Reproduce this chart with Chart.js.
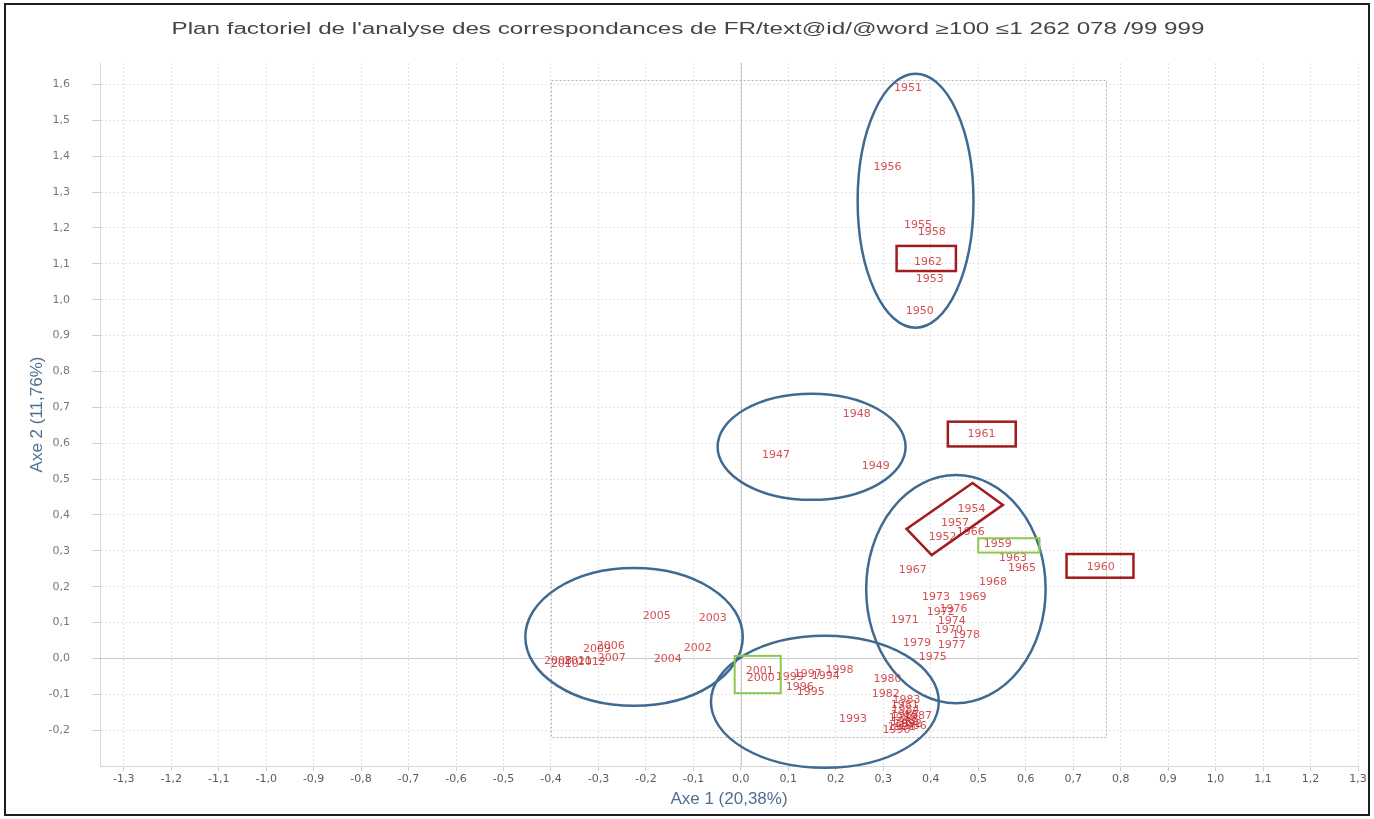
<!DOCTYPE html>
<html>
<head>
<meta charset="utf-8">
<title>Plan factoriel AFC</title>
<script src="https://cdn.jsdelivr.net/npm/chart.js@4.4.1/dist/chart.umd.min.js"></script>
<style>
    html, body { margin: 0; padding: 0; background: #fff; }
    #wrap { width: 1374px; height: 819px; position: relative; }
</style>
</head>
<body>
<div id="wrap"><canvas id="afc"></canvas></div>
<script>
// Coordonnées des années sur les deux premiers axes factoriels
const years = [
    1947, 1948, 1949, 1950, 1951, 1952, 1953, 1954, 1955, 1956,
    1957, 1958, 1959, 1960, 1961, 1962, 1963, 1965, 1966, 1967,
    1968, 1969, 1970, 1971, 1972, 1973, 1974, 1975, 1976, 1977,
    1978, 1979, 1980, 1981, 1982, 1983, 1984, 1985, 1986, 1987,
    1988, 1989, 1990, 1991, 1992, 1993, 1994, 1995, 1996, 1997,
    1998, 1999, 2000, 2001, 2002, 2003, 2004, 2005, 2006, 2007,
    2008, 2009, 2010, 2011, 2012
];
const axe1 = [
    0.074, 0.244, 0.284, 0.377, 0.352, 0.425, 0.398, 0.486, 0.373, 0.309,
    0.451, 0.402, 0.541, 0.758, 0.507, 0.394, 0.573, 0.592, 0.484, 0.362,
    0.531, 0.488, 0.438, 0.345, 0.421, 0.411, 0.444, 0.404, 0.448, 0.444,
    0.474, 0.371, 0.309, 0.345, 0.305, 0.349, 0.347, 0.345, 0.362, 0.373,
    0.341, 0.345, 0.328, 0.339, 0.352, 0.236, 0.179, 0.147, 0.124, 0.141,
    0.208, 0.103, 0.042, 0.040, -0.091, -0.059, -0.154, -0.177, -0.274, -0.272,
    -0.385, -0.303, -0.371, -0.343, -0.314
];
const axe2 = [
    0.567, 0.681, 0.536, 0.969, 1.591, 0.338, 1.058, 0.416, 1.208, 1.370,
    0.377, 1.189, 0.319, 0.255, 0.626, 1.105, 0.280, 0.252, 0.352, 0.247,
    0.213, 0.171, 0.079, 0.107, 0.129, 0.171, 0.104, 0.004, 0.138, 0.037,
    0.065, 0.043, -0.057, -0.130, -0.099, -0.116, -0.144, -0.158, -0.188, -0.161,
    -0.166, -0.177, -0.200, -0.191, -0.183, -0.169, -0.049, -0.094, -0.080, -0.043,
    -0.032, -0.052, -0.055, -0.035, 0.029, 0.113, -0.002, 0.118, 0.035, 0.001,
    -0.007, 0.026, -0.015, -0.007, -0.010
];

// Bornes des axes (pas de 0,1)
const xRange = [-1.35, 1.3];
const yRange = [-0.3, 1.66];

// Regroupements tracés à la main : [centre x, centre y, rayon x, rayon y]
const ellipses = [
    [0.368, 1.276, 0.122, 0.354],
    [0.149, 0.590, 0.198, 0.148],
    [0.453, 0.193, 0.189, 0.318],
    [-0.225, 0.060, 0.229, 0.192],
    [0.177, -0.121, 0.240, 0.184]
];
// Encadrés : [x1, y1, x2, y2]
const redBoxes = [
    [0.328, 1.150, 0.453, 1.080],
    [0.436, 0.660, 0.579, 0.591],
    [0.686, 0.291, 0.827, 0.225]
];
const tiltedBox = [[0.488, 0.489], [0.552, 0.428], [0.402, 0.288], [0.349, 0.361]];
const greenBoxes = [
    [0.500, 0.335, 0.629, 0.295],
    [-0.013, 0.007, 0.084, -0.097]
];

const titre = "Plan factoriel de l'analyse des correspondances de FR/text@id/@word \u2265100 \u22641 262 078 /99 999";

const points = years.map((y, i) => ({ x: axe1[i], y: axe2[i], label: String(y) }));

const fmt = (v) => (Math.round(v * 10) / 10).toFixed(1).replace(".", ",");

// fond : axes zéro + cadre pointillé autour du nuage
const fondPlugin = {
    id: "fond",
    beforeDatasetsDraw(chart) {
        const { ctx, chartArea: a, scales: { x, y } } = chart;
        ctx.save();
        ctx.strokeStyle = "#c9c9c9";
        ctx.lineWidth = 1;
        const x0 = Math.round(x.getPixelForValue(0)) + 0.5;
        const y0 = Math.round(y.getPixelForValue(0)) + 0.5;
        ctx.beginPath();
        ctx.moveTo(x0, a.top); ctx.lineTo(x0, a.bottom);
        ctx.moveTo(a.left, y0); ctx.lineTo(a.right, y0);
        ctx.stroke();

        const l = x.getPixelForValue(Math.min(...axe1)) - 7;
        const r = x.getPixelForValue(Math.max(...axe1)) + 5;
        const t = y.getPixelForValue(Math.max(...axe2)) - 8;
        const b = y.getPixelForValue(Math.min(...axe2)) + 7;
        ctx.strokeStyle = "#b5b5b5";
        ctx.setLineDash([2, 2]);
        ctx.strokeRect(Math.round(l) + 0.5, Math.round(t) + 0.5, Math.round(r - l), Math.round(b - t));
        ctx.restore();
    }
};

// étiquettes des années puis annotations par-dessus
const etiquettesPlugin = {
    id: "etiquettes",
    afterDatasetsDraw(chart) {
        const { ctx, scales: { x, y } } = chart;
        const px = (v) => x.getPixelForValue(v);
        const py = (v) => y.getPixelForValue(v);
        ctx.save();
        ctx.font = '11px "DejaVu Sans"';
        ctx.textAlign = "center";
        ctx.textBaseline = "middle";
        ctx.fillStyle = "rgba(200, 40, 45, 0.82)";
        points.forEach((p) => ctx.fillText(p.label, px(p.x), py(p.y)));

        ctx.lineWidth = 2.5;
        ctx.strokeStyle = "#3f6a92";
        ellipses.forEach(([cx, cy, rx, ry]) => {
            ctx.beginPath();
            ctx.ellipse(px(cx), py(cy), Math.abs(px(cx + rx) - px(cx)), Math.abs(py(cy + ry) - py(cy)), 0, 0, Math.PI * 2);
            ctx.stroke();
        });

        ctx.strokeStyle = "#a11c1f";
        redBoxes.forEach(([x1, y1, x2, y2]) => {
            ctx.strokeRect(px(x1), py(y1), px(x2) - px(x1), py(y2) - py(y1));
        });
        ctx.beginPath();
        tiltedBox.forEach(([vx, vy], i) => (i ? ctx.lineTo(px(vx), py(vy)) : ctx.moveTo(px(vx), py(vy))));
        ctx.closePath();
        ctx.stroke();

        ctx.lineWidth = 2;
        ctx.strokeStyle = "#8cc84b";
        greenBoxes.forEach(([x1, y1, x2, y2]) => {
            ctx.strokeRect(px(x1), py(y1), px(x2) - px(x1), py(y2) - py(y1));
        });
        ctx.restore();
    },
    afterDraw(chart) {
        const { ctx, width, height } = chart;
        ctx.save();
        // titre étiré sur la largeur du graphique
        ctx.font = '16px "Liberation Sans Narrow", "Liberation Sans", sans-serif';
        ctx.fillStyle = "#454545";
        ctx.textAlign = "center";
        ctx.textBaseline = "middle";
        const w = ctx.measureText(titre).width;
        ctx.translate(688, 30);
        ctx.scale(1033 / w, 1);
        ctx.fillText(titre, 0, 0);
        ctx.restore();

        ctx.save();
        ctx.strokeStyle = "#1e1e1e";
        ctx.lineWidth = 2;
        ctx.strokeRect(5, 4, width - 10, height - 8);
        ctx.restore();
    }
};

const ctx = document.getElementById("afc").getContext("2d");

new Chart(ctx, {
    type: "scatter",
    data: {
        datasets: [
            {
                label: "années",
                data: points,
                pointRadius: 0,
                pointHoverRadius: 0,
            },
        ],
    },
    options: {
        responsive: true,
        maintainAspectRatio: false,
        animation: false,
        layout: { padding: { top: 63, right: 16, left: 0, bottom: 0 } },
        plugins: {
            legend: { display: false },
            tooltip: { enabled: false },
            title: { display: false },
        },
        scales: {
            x: {
                type: "linear",
                min: xRange[0],
                max: xRange[1],
                ticks: {
                    stepSize: 0.1,
                    includeBounds: false,
                    autoSkip: false,
                    maxRotation: 0,
                    padding: 2,
                    color: "#5a5a5a",
                    font: { family: "DejaVu Sans", size: 11 },
                    callback: (v) => fmt(v),
                },
                grid: { color: "#e2e2e2", tickLength: 5, tickColor: "#cfcfcf" },
                border: { display: true, color: "#d5d5d5", dash: [2, 2] },
                title: {
                    display: true,
                    text: "Axe 1 (20,38%)",
                    color: "#4f6f8f",
                    font: { family: '"Liberation Sans Narrow", "Liberation Sans"', size: 17 },
                    padding: { top: 4, bottom: 9 },
                },
                afterFit(scale) {
                    scale.paddingLeft = 0;
                    scale.paddingRight = 0;
                    scale.height = 53;
                },
            },
            y: {
                type: "linear",
                min: yRange[0],
                max: yRange[1],
                ticks: {
                    stepSize: 0.1,
                    includeBounds: false,
                    padding: 22,
                    color: "#777",
                    font: { family: "DejaVu Sans", size: 11 },
                    callback: (v) => (v < yRange[0] + 0.05 ? "" : fmt(v)),
                },
                grid: { color: "#e2e2e2", tickLength: 8, tickColor: "#cfcfcf" },
                border: { display: true, color: "#d5d5d5", dash: [2, 2] },
                title: {
                    display: true,
                    text: "Axe 2 (11,76%)",
                    color: "#4f6f8f",
                    font: { family: '"Liberation Sans Narrow", "Liberation Sans"', size: 17 },
                    padding: { top: 27, bottom: 0 },
                },
                afterFit(scale) {
                    scale.paddingTop = 0;
                    scale.paddingBottom = 0;
                    scale.width = 100;
                },
            },
        },
    },
    plugins: [fondPlugin, etiquettesPlugin],
});
</script>
</body>
</html>
